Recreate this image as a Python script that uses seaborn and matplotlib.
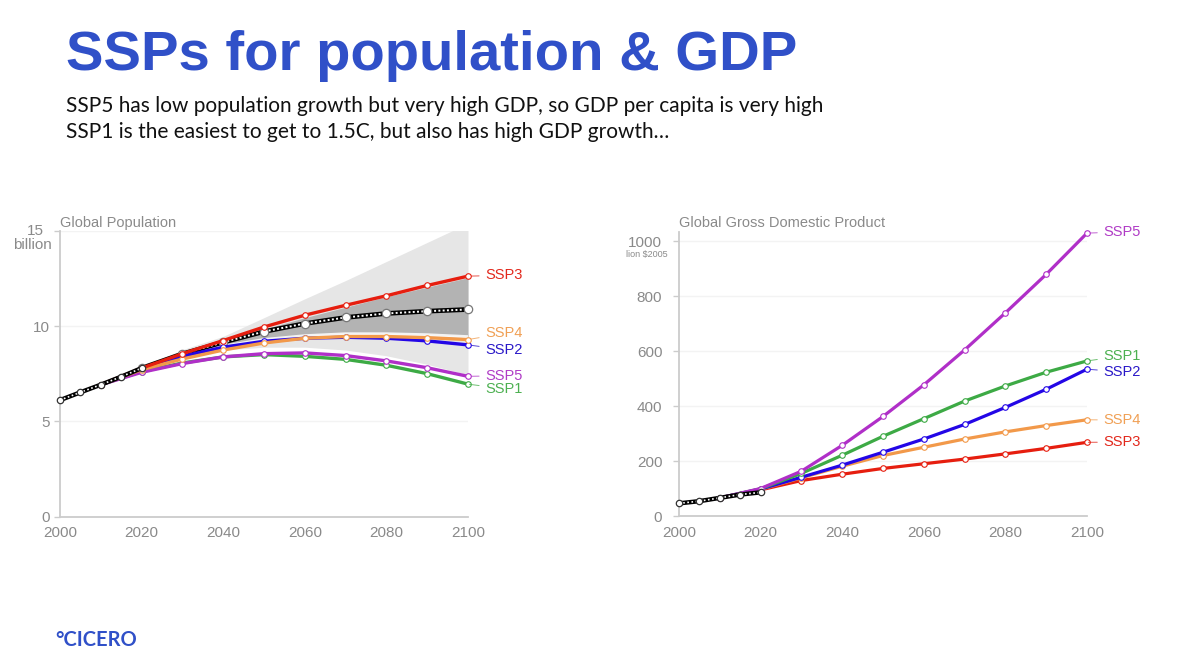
import numpy as np
import pandas as pd
import matplotlib
matplotlib.use("Agg")
import matplotlib.pyplot as plt
import seaborn as sns

sns.set_theme(style="white")
plt.rcParams['font.family'] = ['Liberation Sans', 'DejaVu Sans']

# ---------------- data ----------------
hist_years = [2000, 2005, 2010, 2015, 2020]
proj_years = [2010, 2020, 2030, 2040, 2050, 2060, 2070, 2080, 2090, 2100]
band_years = [2020, 2030, 2040, 2050, 2060, 2070, 2080, 2090, 2100]
median_years = [2020, 2030, 2040, 2050, 2060, 2070, 2080, 2090, 2100]

pop_hist = [6.12, 6.53, 6.93, 7.35, 7.80]
pop_median = [7.80, 8.55, 9.16, 9.72, 10.14, 10.46, 10.67, 10.79, 10.88]
pop_light_hi = [7.85, 8.77, 9.47, 10.45, 11.44, 12.40, 13.40, 14.40, 15.40]
pop_light_lo = [7.75, 8.35, 8.75, 8.90, 8.90, 8.75, 8.45, 8.00, 7.45]
pop_dark_hi = [7.82, 8.55, 9.20, 9.85, 10.45, 11.00, 11.55, 12.05, 12.55]
pop_dark_lo = [7.78, 8.45, 8.95, 9.30, 9.50, 9.60, 9.60, 9.55, 9.45]

pop_ssp = {
    "SSP1": [6.93, 7.62, 8.07, 8.39, 8.51, 8.42, 8.26, 7.95, 7.51, 6.96],
    "SSP5": [6.93, 7.58, 8.04, 8.39, 8.56, 8.60, 8.46, 8.18, 7.82, 7.37],
    "SSP2": [6.93, 7.75, 8.42, 8.90, 9.21, 9.37, 9.42, 9.37, 9.23, 9.02],
    "SSP4": [6.93, 7.72, 8.28, 8.75, 9.12, 9.37, 9.46, 9.46, 9.40, 9.30],
    "SSP3": [6.93, 7.80, 8.56, 9.25, 9.96, 10.58, 11.10, 11.60, 12.14, 12.63],
}

gdp_hist = [46, 54, 66, 78, 86]
gdp_ssp = {
    "SSP3": [66, 95, 129, 152, 173, 190, 207, 226, 246, 268],
    "SSP4": [66, 97, 139, 181, 220, 250, 280, 306, 329, 350],
    "SSP2": [66, 98, 141, 185, 232, 280, 333, 395, 461, 534],
    "SSP1": [66, 99, 155, 221, 290, 354, 418, 473, 523, 564],
    "SSP5": [66, 100, 163, 257, 362, 477, 604, 739, 879, 1029],
}

colors = {"SSP1": "#3daa45", "SSP2": "#2306e6", "SSP3": "#e61e0f",
          "SSP4": "#f2994a", "SSP5": "#b02fc8"}
label_colors = {"SSP1": "#4cb050", "SSP2": "#2a18c8", "SSP3": "#e2281c",
                "SSP4": "#f0a055", "SSP5": "#b03cc6"}

pop_label_y = {"SSP3": 12.67, "SSP4": 9.62, "SSP2": 8.77, "SSP5": 7.40, "SSP1": 6.72}
gdp_label_y = {"SSP5": 1033, "SSP1": 582, "SSP2": 524, "SSP4": 349, "SSP3": 269}

pop_yticks = [0, 5, 10, 15]
gdp_yticks = [0, 200, 400, 600, 800, 1000]
xticks = [2000, 2020, 2040, 2060, 2080, 2100]

# ---------------- figure ----------------
W, H = 1200, 671
fig = plt.figure(figsize=(12, 6.71), dpi=100)
fig.patch.set_facecolor("white")

def fx(px):
    return px / W

def fy(py):
    return 1 - py / H

ax1 = fig.add_axes([fx(60), fy(516.7), fx(408), (516.7 - 231) / H])
ax2 = fig.add_axes([fx(679), fy(516), fx(408), (516 - 232) / H])

grey_txt = "#8a8a8a"
spine_c = "#cccccc"

def style_axes(ax, ylim, yticks, ylabels, ypad):
    ax.set_facecolor("white")
    ax.set_xlim(2000, 2100)
    ax.set_ylim(*ylim)
    ax.set_xticks(xticks)
    ax.set_yticks(yticks)
    ax.set_yticklabels(ylabels)
    for s in ["top", "right"]:
        ax.spines[s].set_visible(False)
    for s in ["left", "bottom"]:
        ax.spines[s].set_color(spine_c)
        ax.spines[s].set_linewidth(1.3)
    ax.tick_params(axis="y", length=4, width=1, color=spine_c, labelsize=11,
                   labelcolor=grey_txt, pad=ypad, left=True)
    ax.tick_params(axis="x", length=0, labelsize=11, labelcolor=grey_txt, pad=7,
                   bottom=True)
    for t in yticks[1:]:
        ax.axhline(t, color="#f3f3f3", lw=1, zorder=0)
    ax.grid(False)
    ax.set_xlabel("")
    ax.set_ylabel("")

def draw_series(ax, x, y, c, lw=2.4, ms=4.0, z=3, mec=None):
    sns.lineplot(x=x, y=y, ax=ax, color=c, lw=lw, marker="o", ms=ms,
                 markerfacecolor="white", markeredgecolor=mec or c,
                 markeredgewidth=0.8, zorder=z, clip_on=False)

def draw_hist(ax, x, y, z=8):
    sns.lineplot(x=x, y=y, ax=ax, color="black", lw=3.2, zorder=z,
                 clip_on=False)
    sns.lineplot(x=x, y=y, ax=ax, color="white", lw=1.2, dashes=False,
                 zorder=z + 0.1, clip_on=False).lines[-1].set_dashes((1, 1.5))
    sns.lineplot(x=x, y=y, ax=ax, color="black", lw=0, marker="o", ms=4.6,
                 markerfacecolor="white", markeredgecolor="#333333",
                 markeredgewidth=0.9, zorder=z + 0.2, clip_on=False)

# ---------------- population ----------------
style_axes(ax1, (0, 15), pop_yticks, ["0", "5", "10", ""], 3)
ax1.fill_between(band_years, pop_light_lo, pop_light_hi, color="#e6e6e6",
                 lw=0, zorder=1)
ax1.fill_between(band_years, pop_dark_lo, pop_dark_hi, color="#b3b3b3",
                 lw=0, zorder=1.5)
sns.lineplot(x=band_years, y=pop_dark_lo, ax=ax1, color="white", lw=2.2,
             alpha=0.85, zorder=1.6)

# median
sns.lineplot(x=median_years, y=pop_median, ax=ax1, color="black", lw=3.4, zorder=2)
med = sns.lineplot(x=median_years, y=pop_median, ax=ax1, color="white", lw=1.4,
                   zorder=2.1)
med.lines[-1].set_dashes((1, 1.2))
sns.lineplot(x=median_years, y=pop_median, ax=ax1, color="black", lw=0,
             marker="o", ms=6, markerfacecolor="white", markeredgecolor="#777777",
             markeredgewidth=0.9, zorder=2.2, clip_on=False)

for i, name in enumerate(["SSP1", "SSP5", "SSP2", "SSP4", "SSP3"]):
    draw_series(ax1, proj_years, pop_ssp[name], colors[name], z=3 + i * 0.1)
draw_hist(ax1, hist_years, pop_hist)

for name, ly in pop_label_y.items():
    ax1.annotate(name, xy=(2100, pop_ssp[name][-1]), xytext=(2104.2, ly),
                 color=label_colors[name], fontsize=10.5, va="center", ha="left",
                 annotation_clip=False,
                 arrowprops=dict(arrowstyle="-", color=label_colors[name], lw=0.7,
                                 shrinkA=2, shrinkB=1, alpha=0.8))

# ---------------- GDP ----------------
style_axes(ax2, (0, 1033), gdp_yticks, [str(v) for v in gdp_yticks], 8)
for i, name in enumerate(["SSP3", "SSP4", "SSP2", "SSP1", "SSP5"]):
    draw_series(ax2, proj_years, gdp_ssp[name], colors[name], lw=2.3, z=3 + i * 0.1)
draw_hist(ax2, hist_years, gdp_hist)

for name, ly in gdp_label_y.items():
    ax2.annotate(name, xy=(2100, gdp_ssp[name][-1]), xytext=(2104.0, ly),
                 color=label_colors[name], fontsize=10.5, va="center", ha="left",
                 annotation_clip=False,
                 arrowprops=dict(arrowstyle="-", color=label_colors[name], lw=0.7,
                                 shrinkA=2, shrinkB=1, alpha=0.8))

# ---------------- texts ----------------
fig.text(fx(60), fy(227), "Global Population", fontsize=10.5, color=grey_txt,
         ha="left", va="baseline")
fig.text(fx(679), fy(227), "Global Gross Domestic Product", fontsize=10.5,
         color=grey_txt, ha="left", va="baseline")
fig.text(fx(35), fy(231), "15", fontsize=11, color=grey_txt, ha="center",
         va="center")
fig.text(fx(32), fy(245), "billion", fontsize=11, color=grey_txt, ha="center",
         va="center")
fig.text(fx(647), fy(255), "lion $2005", fontsize=6.5, color=grey_txt,
         ha="center", va="center")

fig.text(fx(66), fy(70), "SSPs for population & GDP", fontsize=40.5,
         fontweight="bold", color="#3050c8", ha="left", va="baseline")
fig.text(fx(66), fy(112),
         "SSP5 has low population growth but very high GDP, so GDP per capita is very high",
         fontsize=15, family=["Lato", "DejaVu Sans"], color="#111111",
         ha="left", va="baseline")
fig.text(fx(66), fy(138),
         "SSP1 is the easiest to get to 1.5C, but also has high GDP growth\u2026",
         fontsize=15, family=["Lato", "DejaVu Sans"], color="#111111",
         ha="left", va="baseline")
fig.text(fx(55), fy(646), "\u00b0CICERO", fontsize=14.5, fontweight="bold",
         family=["Lato", "DejaVu Sans"], color="#3050c8", ha="left",
         va="baseline")

fig.savefig("out.png", dpi=100, facecolor="white")
